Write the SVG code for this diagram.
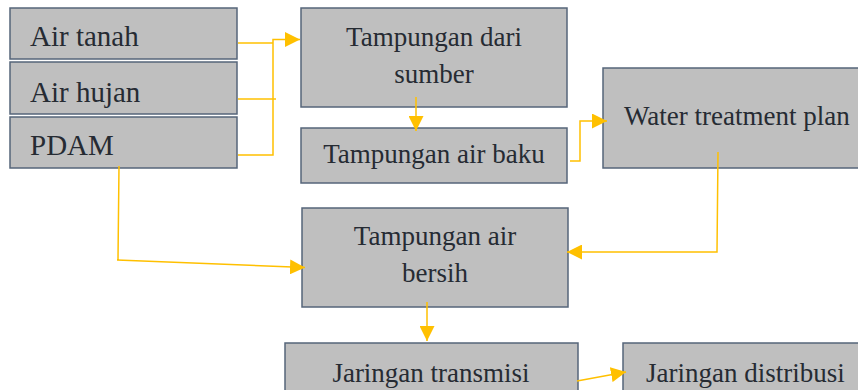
<svg xmlns="http://www.w3.org/2000/svg" width="858" height="390" viewBox="0 0 858 390">
  <defs>
    <marker id="arrow" viewBox="0 0 10 10" refX="10" refY="5" markerWidth="15" markerHeight="15" markerUnits="userSpaceOnUse" orient="auto">
      <path d="M0,0 L10,5 L0,10 Z" fill="#ffc000"/>
    </marker>
    <style>
      .box { fill: #bfbfbf; stroke: #56657a; stroke-width: 1.5; }
      .lbl { font-family: "Liberation Serif", "Times New Roman", serif; font-size: 27px; fill: #262b33; }
      .src { font-size: 29px; }
      .mid { text-anchor: middle; }
      .wire { fill: none; stroke: #ffc000; stroke-width: 1.5; }
    </style>
  </defs>
  <rect width="858" height="390" fill="#ffffff"/>

  <!-- Sources -->
  <g id="air-tanah">
    <rect class="box" x="10" y="8" width="227" height="51"/>
    <text class="lbl src" x="30" y="46">Air tanah</text>
  </g>
  <g id="air-hujan">
    <rect class="box" x="10" y="62" width="227" height="52"/>
    <text class="lbl src" x="30" y="102">Air hujan</text>
  </g>
  <g id="pdam">
    <rect class="box" x="10" y="117" width="227" height="51"/>
    <text class="lbl src" x="30" y="155">PDAM</text>
  </g>

  <!-- Storage and treatment -->
  <g id="tampungan-sumber">
    <rect class="box" x="301" y="8" width="266" height="99"/>
    <text class="lbl mid" x="434" y="46">Tampungan dari</text>
    <text class="lbl mid" x="434" y="83">sumber</text>
  </g>
  <g id="tampungan-baku">
    <rect class="box" x="301" y="128" width="266" height="55"/>
    <text class="lbl mid" x="434" y="163">Tampungan air baku</text>
  </g>
  <g id="water-treatment">
    <rect class="box" x="603" y="68" width="262" height="100"/>
    <text class="lbl" x="624" y="125">Water treatment plan</text>
  </g>
  <g id="tampungan-bersih">
    <rect class="box" x="302" y="208" width="266" height="99"/>
    <text class="lbl mid" x="435" y="245">Tampungan air</text>
    <text class="lbl mid" x="435" y="282">bersih</text>
  </g>

  <!-- Networks -->
  <g id="jaringan-transmisi">
    <rect class="box" x="285" y="343" width="293" height="60"/>
    <text class="lbl mid" x="431" y="382">Jaringan transmisi</text>
  </g>
  <g id="jaringan-distribusi">
    <rect class="box" x="623" y="343" width="250" height="60"/>
    <text class="lbl" x="646" y="382">Jaringan distribusi</text>
  </g>

  <!-- Connectors -->
  <g id="connectors">
    <path class="wire" d="M238,43 H273"/>
    <path class="wire" d="M238,99 H276"/>
    <path class="wire" d="M238,155 H273 V39.5 H300" marker-end="url(#arrow)"/>
    <path class="wire" d="M416,97 V131" marker-end="url(#arrow)"/>
    <path class="wire" d="M570,161 H580 V121 H607" marker-end="url(#arrow)"/>
    <path class="wire" d="M718,152 L717,252 H567" marker-end="url(#arrow)"/>
    <path class="wire" d="M119,166 L118,260 M117,260 L305,267.5" marker-end="url(#arrow)"/>
    <path class="wire" d="M427,302 V341" marker-end="url(#arrow)"/>
    <path class="wire" d="M577,381 L626,372" marker-end="url(#arrow)"/>
  </g>
</svg>
